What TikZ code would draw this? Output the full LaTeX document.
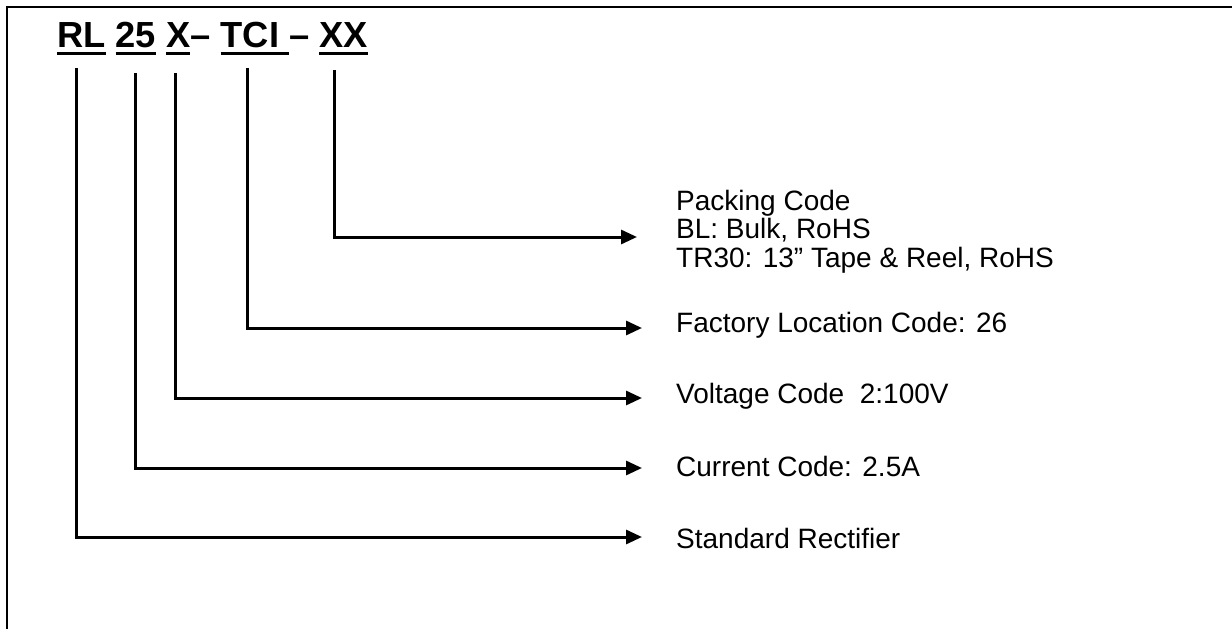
\documentclass[tikz,border=0pt]{standalone}
\usepackage{fontspec}
\usepackage{tikz}
\usetikzlibrary{arrows.meta}
\setmainfont{Liberation Sans}

\newsavebox\codebox
\newcommand\codeul[1]{\sbox\codebox{#1}\rlap{\rule[-8pt]{\wd\codebox}{2.7pt}}\usebox\codebox}

\tikzset{
  lbl/.style={anchor=base west, inner sep=0pt, font=\fontsize{28}{28.5}\selectfont, align=left},
  leader/.style={line width=3pt, -{Triangle[length=16pt,width=14pt]}}
}

\begin{document}
\begin{tikzpicture}[x=1pt, y=-1pt]
  \useasboundingbox (0,0) rectangle (1232,629);
  \draw[line width=1.8pt] (7,629) -- (7,7) -- (1232,7);

  \node[anchor=base west, inner sep=0pt, font=\bfseries\fontsize{36.3}{40}\selectfont] (title) at (57,47)
    {\codeul{RL} \codeul{25} \codeul{X}– \codeul{TCI }– \codeul{XX}};

  \node[lbl] (pack) at (676,267) {Packing Code\\BL: Bulk, RoHS\\TR30: 13” Tape \& Reel, RoHS};
  \node[lbl] (fac) at (676,332) {Factory Location Code: 26};
  \node[lbl] (volt) at (676,403) {Voltage Code\ \ 2:100V};
  \node[lbl] (cur) at (676,476) {Current Code: 2.5A};
  \node[lbl] (std) at (676,548) {Standard Rectifier};

  % leaders from each code down and across to its label
  \foreach \name/\x/\top/\y/\tip in {std/76/68/537/642, cur/135/73/468/642, volt/175/73/398/642, fac/247/68/328/642, pack/334/70/237/637} {
    \coordinate (\name top) at (\x,\top);
    \coordinate (\name tip) at (\tip,\y);
    \draw[leader] (\name top) |- (\name tip);
  }
\end{tikzpicture}
\end{document}
